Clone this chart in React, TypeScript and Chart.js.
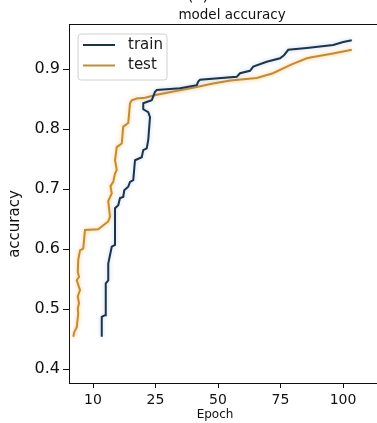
import React, { useEffect, useRef } from "react";
import { Chart, registerables } from "chart.js";

Chart.register(...registerables);

// ---- data ----
const trainEpoch = [3.5, 3.5, 4.8, 5.1, 6.1, 6.1, 7.5, 8.8, 8.8, 10.1, 10.8, 12.1, 12.5, 14.1, 14.8, 16.1, 16.8, 19.5, 20.1, 21.5, 22.1, 22.8, 22.1, 20.1, 20.1, 22.0, 23.5, 24.8, 25.5, 34.8, 41.5, 42.1, 42.8, 57.5, 58.8, 62.8, 64.1, 69.5, 74.8, 76.4, 78.1, 85.5, 96.1, 100.1, 103.5];
const trainAcc = [0.454, 0.487, 0.49, 0.543, 0.548, 0.576, 0.604, 0.607, 0.668, 0.673, 0.685, 0.687, 0.698, 0.704, 0.712, 0.715, 0.748, 0.753, 0.765, 0.768, 0.782, 0.82, 0.828, 0.833, 0.843, 0.846, 0.848, 0.862, 0.865, 0.868, 0.873, 0.879, 0.882, 0.887, 0.893, 0.897, 0.904, 0.912, 0.918, 0.923, 0.932, 0.935, 0.94, 0.945, 0.948];

const testEpoch = [-7.9, -7.5, -6.5, -5.9, -6.1, -5.6, -6.1, -5.2, -6.5, -5.6, -6.1, -5.9, -5.2, -3.9, -3.2, 2.1, 6.1, 6.8, 6.1, 7.5, 7.0, 8.1, 8.8, 9.5, 8.8, 9.5, 11.5, 12.1, 14.1, 14.8, 15.5, 17.5, 20.8, 25.5, 41.5, 48, 55, 65.5, 72, 79, 85.5, 88, 96, 103.5];
const testAcc = [0.454, 0.462, 0.47, 0.493, 0.501, 0.51, 0.521, 0.532, 0.548, 0.554, 0.562, 0.582, 0.598, 0.601, 0.632, 0.633, 0.646, 0.654, 0.68, 0.693, 0.705, 0.712, 0.726, 0.732, 0.748, 0.77, 0.776, 0.804, 0.81, 0.843, 0.848, 0.851, 0.852, 0.857, 0.87, 0.876, 0.881, 0.885, 0.893, 0.907, 0.918, 0.92, 0.926, 0.932];

const xTickValues = [0, 25, 50, 75, 100];
const xTickLabels = ["10", "25", "50", "75", "100"];
const yTickValues = [0.4, 0.5, 0.6, 0.7, 0.8, 0.9];

const seriesNames = ["train", "test"];
const seriesColors = ["#1d354c", "#c98a2b"];
const seriesGlow = ["rgba(110,160,210,0.45)", "rgba(245,175,80,0.7)"];

const FONT = "'DejaVu Sans', sans-serif";

const noPad = (s: any) => {
  s.paddingLeft = 0;
  s.paddingRight = 0;
  s.paddingTop = 0;
  s.paddingBottom = 0;
};

const decorPlugin = {
  id: "decor",
  beforeDatasetDraw(chart: any, args: any) {
    const ctx = chart.ctx;
    ctx.save();
    ctx.shadowColor = seriesGlow[args.index];
    ctx.shadowBlur = 4;
  },
  afterDatasetDraw(chart: any) {
    chart.ctx.restore();
  },
  afterDraw(chart: any) {
    const ctx = chart.ctx;
    const area = chart.chartArea;
    ctx.save();
    ctx.fillStyle = "#111";
    ctx.textAlign = "center";
    ctx.textBaseline = "middle";
    // "(c)" label, cut at top
    ctx.font = `16px ${FONT}`;
    ctx.fillText("(c)", 198, -4);
    // title
    ctx.font = `13.5px ${FONT}`;
    ctx.fillText("model accuracy", 232, 15);
    // x title
    ctx.font = `12px ${FONT}`;
    ctx.fillText("Epoch", 215, 415);
    // y title
    ctx.save();
    ctx.translate(15, 224);
    ctx.rotate(-Math.PI / 2);
    ctx.font = `15px ${FONT}`;
    ctx.fillText("accuracy", 0, 0);
    ctx.restore();

    // legend box inside the plot area
    const bx = area.left + 9;
    const by = area.top + 10;
    const bw = 89;
    const bh = 46;
    ctx.beginPath();
    const r = 3;
    ctx.moveTo(bx + r, by);
    ctx.lineTo(bx + bw - r, by);
    ctx.quadraticCurveTo(bx + bw, by, bx + bw, by + r);
    ctx.lineTo(bx + bw, by + bh - r);
    ctx.quadraticCurveTo(bx + bw, by + bh, bx + bw - r, by + bh);
    ctx.lineTo(bx + r, by + bh);
    ctx.quadraticCurveTo(bx, by + bh, bx, by + bh - r);
    ctx.lineTo(bx, by + r);
    ctx.quadraticCurveTo(bx, by, bx + r, by);
    ctx.closePath();
    ctx.fillStyle = "rgba(255,255,255,0.9)";
    ctx.fill();
    ctx.strokeStyle = "#d0d0d0";
    ctx.lineWidth = 1;
    ctx.stroke();
    ctx.textAlign = "left";
    ctx.font = `15px ${FONT}`;
    seriesNames.forEach((name, i) => {
      const ly = by + 11 + i * 20.5;
      ctx.beginPath();
      ctx.moveTo(bx + 5, ly);
      ctx.lineTo(bx + 37, ly);
      ctx.strokeStyle = seriesColors[i];
      ctx.lineWidth = 2;
      ctx.stroke();
      ctx.fillStyle = "#1a1a1a";
      ctx.fillText(name, bx + 50, ly);
    });
    ctx.restore();
  },
};

export default function App() {
  const ref = useRef<HTMLCanvasElement | null>(null);
  useEffect(() => {
    if (!ref.current) return;
    const chart = new Chart(ref.current, {
      type: "line",
      data: {
        datasets: [
          {
            label: seriesNames[0],
            data: trainEpoch.map((x, i) => ({ x, y: trainAcc[i] })),
            borderColor: seriesColors[0],
            borderWidth: 2,
            pointRadius: 0,
            tension: 0,
            fill: false,
          },
          {
            label: seriesNames[1],
            data: testEpoch.map((x, i) => ({ x, y: testAcc[i] })),
            borderColor: seriesColors[1],
            borderWidth: 2,
            pointRadius: 0,
            tension: 0,
            fill: false,
          },
        ],
      },
      options: {
        animation: false,
        responsive: false,
        layout: { padding: 0 },
        plugins: {
          legend: { display: false },
          title: { display: false },
          tooltip: { enabled: false },
        },
        scales: {
          x: {
            type: "linear",
            position: "bottom",
            min: -9.6,
            max: 113.6,
            afterBuildTicks: (s: any) => {
              s.ticks = xTickValues.map((v) => ({ value: v }));
            },
            afterFit: (s: any) => {
              s.height = 40;
              noPad(s);
            },
            grid: { display: true, drawOnChartArea: false, drawTicks: true, tickLength: 5, color: "#111" },
            border: { display: true, color: "#111", width: 1 },
            ticks: {
              padding: 4,
              color: "#111",
              font: { family: FONT, size: 14 },
              maxRotation: 0,
              callback: (v: any) => {
                const i = xTickValues.indexOf(Number(v));
                return i >= 0 ? xTickLabels[i] : "";
              },
            },
          },
          xTop: {
            type: "linear",
            position: "top",
            min: -9.6,
            max: 113.6,
            afterFit: (s: any) => {
              s.height = 24;
              noPad(s);
            },
            grid: { display: false, drawTicks: false },
            border: { display: true, color: "#111", width: 1 },
            ticks: { display: false },
          },
          y: {
            type: "linear",
            min: 0.377,
            max: 0.975,
            afterBuildTicks: (s: any) => {
              s.ticks = yTickValues.map((v) => ({ value: v }));
            },
            afterFit: (s: any) => {
              s.width = 69;
              noPad(s);
            },
            grid: { display: true, drawOnChartArea: false, drawTicks: true, tickLength: 6, color: "#111" },
            border: { display: true, color: "#111", width: 1 },
            ticks: {
              padding: 3,
              color: "#111",
              font: { family: FONT, size: 16 },
              callback: (v: any) => Number(v).toFixed(1),
            },
          },
        },
      },
      plugins: [decorPlugin],
    });
    return () => chart.destroy();
  }, []);
  return (
    <div style={{ position: "fixed", left: 0, top: 0, width: 377, height: 423, overflow: "hidden" }}>
      <canvas ref={ref} width={377} height={423} style={{ display: "block" }} />
    </div>
  );
}
